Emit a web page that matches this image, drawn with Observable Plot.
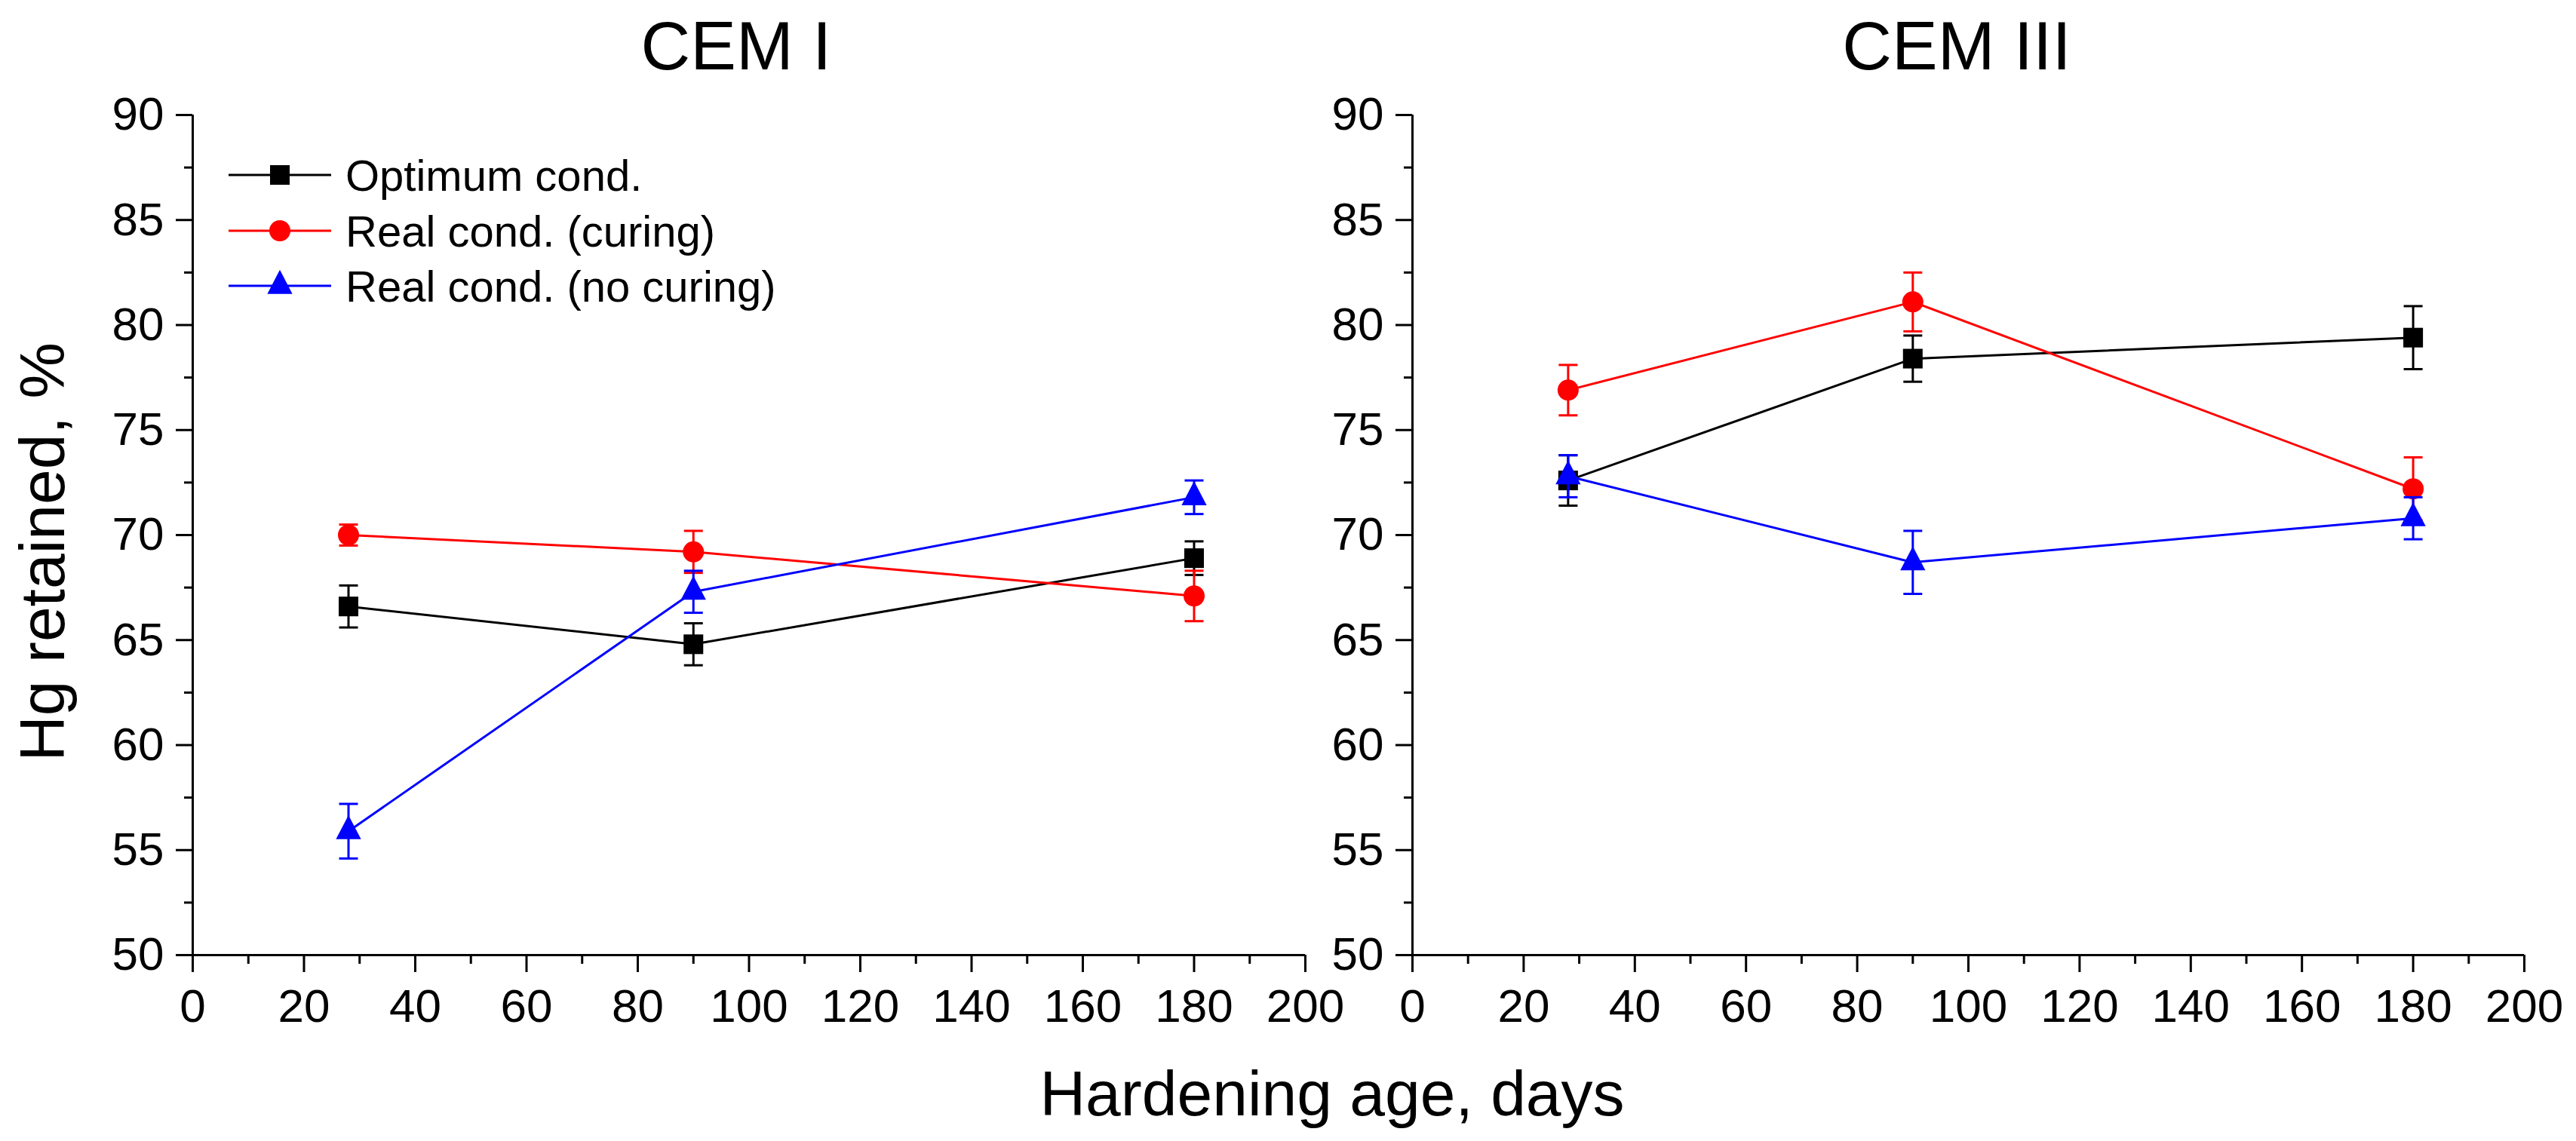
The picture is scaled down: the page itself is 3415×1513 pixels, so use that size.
<!DOCTYPE html>
<html>
<head>
<meta charset="utf-8">
<script src="https://cdn.jsdelivr.net/npm/d3@7"></script>
<script src="https://cdn.jsdelivr.net/npm/@observablehq/plot@0.6"></script>
<style>
  html, body { margin: 0; padding: 0; background: #fff; }
  #wrap { position: relative; width: 3415px; height: 1513px; background: #fff; overflow: hidden;
          font-family: "Liberation Sans", Arial, sans-serif; }
  #wrap svg { position: absolute; top: 0; max-width: none; overflow: visible; background: transparent; }
</style>
</head>
<body>
<div id="wrap"></div>
<script>
// ---- data ----
const ages = [28, 90, 180];
const seriesNames = ["Optimum cond.", "Real cond. (curing)", "Real cond. (no curing)"];
const seriesColors = ["#000000", "#ff0000", "#0000ff"];
const panelTitles = ["CEM I", "CEM III"];

// CEM I
const optI = [66.6, 64.8, 68.9];
const optIErr = [1.0, 1.0, 0.8];
const curI = [70.0, 69.2, 67.1];
const curIErr = [0.5, 1.0, 1.2];
const noI = [55.9, 67.3, 71.8];
const noIErr = [1.3, 1.0, 0.8];

// CEM III
const optIII = [72.6, 78.4, 79.4];
const optIIIErr = [1.2, 1.1, 1.5];
const curIII = [76.9, 81.1, 72.2];
const curIIIErr = [1.2, 1.4, 1.5];
const noIII = [72.8, 68.7, 70.8];
const noIIIErr = [1.0, 1.5, 1.0];

const xMajor = [0, 20, 40, 60, 80, 100, 120, 140, 160, 180, 200];
const xMinor = [10, 30, 50, 70, 90, 110, 130, 150, 170, 190];
const yMajor = [50, 55, 60, 65, 70, 75, 80, 85, 90];
const yMinor = [52.5, 57.5, 62.5, 67.5, 72.5, 77.5, 82.5, 87.5];

// ---- symbols ----
const capSymbol = { draw(ctx, size) { const h = Math.sqrt(size / Math.PI); ctx.moveTo(-h, 0); ctx.lineTo(h, 0); } };
const triSymbol = { draw(ctx, size) {
  const s = Math.sqrt(size / Math.PI); const H = 2.4 * s, W = 2.5 * s;
  ctx.moveTo(0, -2 * H / 3); ctx.lineTo(W / 2, H / 3); ctx.lineTo(-W / 2, H / 3); ctx.closePath(); } };
const markerSymbols = ["square", "circle", triSymbol];
const markerR = [14.7, 14, 13.3];

function buildRows(vals, errs) {
  const rows = [];
  vals.forEach((v, si) => {
    ages.forEach((a, i) => rows.push({ s: si, age: a, val: v[i], lo: v[i] - errs[si][i], hi: v[i] + errs[si][i] }));
  });
  return rows;
}

const FONT = "Liberation Sans, Arial, sans-serif";

function panel(vals, errs, left, width, marginRight) {
  const rows = buildRows(vals, errs);
  const marks = [
    Plot.axisX({ ticks: xMajor, tickSize: 23, tickPadding: 21, strokeWidth: 3, fontSize: 62, label: null, tickFormat: d => String(d) }),
    Plot.axisX({ ticks: xMinor, tickSize: 12, text: null, strokeWidth: 3, label: null }),
    Plot.axisY({ ticks: yMajor, tickSize: 22, tickPadding: 16, strokeWidth: 3, fontSize: 62, label: null, tickFormat: d => String(d) }),
    Plot.axisY({ ticks: yMinor, tickSize: 11, text: null, strokeWidth: 3, label: null }),
    Plot.ruleY([50], { stroke: "#000", strokeWidth: 3 }),
    Plot.ruleX([0], { stroke: "#000", strokeWidth: 3 })
  ];
  [0, 1, 2].forEach(si => {
    const d = rows.filter(r => r.s === si);
    const c = seriesColors[si];
    marks.push(
      Plot.line(d, { x: "age", y: "val", stroke: c, strokeWidth: 3 }),
      Plot.ruleX(d, { x: "age", y1: "lo", y2: "hi", stroke: c, strokeWidth: 3 }),
      Plot.dot(d, { x: "age", y: "hi", symbol: capSymbol, r: 12.5, stroke: c, fill: "none", strokeWidth: 3 }),
      Plot.dot(d, { x: "age", y: "lo", symbol: capSymbol, r: 12.5, stroke: c, fill: "none", strokeWidth: 3 }),
      Plot.dot(d, { x: "age", y: "val", symbol: markerSymbols[si], r: markerR[si], fill: c, stroke: "none" })
    );
  });
  const svg = Plot.plot({
    width: width, height: 1513,
    marginLeft: 255, marginRight: marginRight, marginTop: 152, marginBottom: 247,
    x: { domain: [0, 200] },
    y: { domain: [50, 90] },
    style: { fontFamily: FONT, fontSize: "62px", background: "transparent", color: "#000", overflow: "visible" },
    marks
  });
  svg.style.left = left + "px";
  return svg;
}

const wrap = document.getElementById("wrap");
wrap.appendChild(panel([optI, curI, noI], [optIErr, curIErr, noIErr], 0, 1790, 60));
wrap.appendChild(panel([optIII, curIII, noIII], [optIIIErr, curIIIErr, noIIIErr], 1617, 1798, 69));

// ---- overlay text: titles, axis labels, legend ----
const ov = d3.select(wrap).append("svg")
  .attr("width", 3415).attr("height", 1513)
  .style("left", "0px").style("font-family", FONT);

const titleX = [976, 2594];
panelTitles.forEach((t, i) => {
  ov.append("text").attr("x", titleX[i]).attr("y", 92).attr("text-anchor", "middle")
    .attr("font-size", 91).attr("fill", "#000").text(t);
});
ov.append("text").attr("x", 1766).attr("y", 1479).attr("text-anchor", "middle")
  .attr("font-size", 84).attr("fill", "#000").text("Hardening age, days");
ov.append("text").attr("transform", "translate(85,732) rotate(-90)").attr("text-anchor", "middle")
  .attr("font-size", 84).attr("fill", "#000").text("Hg retained, %");

const legendY = [232, 306, 379];
seriesNames.forEach((name, i) => {
  const g = ov.append("g");
  g.append("line").attr("x1", 303).attr("x2", 439).attr("y1", legendY[i]).attr("y2", legendY[i])
    .attr("stroke", seriesColors[i]).attr("stroke-width", 3);
  const r = markerR[i];
  const sym = i === 0 ? d3.symbolSquare : i === 1 ? d3.symbolCircle : triSymbol;
  g.append("path").attr("d", d3.symbol(sym, Math.PI * r * r)())
    .attr("transform", `translate(371,${legendY[i]})`).attr("fill", seriesColors[i]);
  g.append("text").attr("x", 458).attr("y", legendY[i] + 21).attr("font-size", 58)
    .attr("fill", "#000").text(name);
});
</script>
</body>
</html>
